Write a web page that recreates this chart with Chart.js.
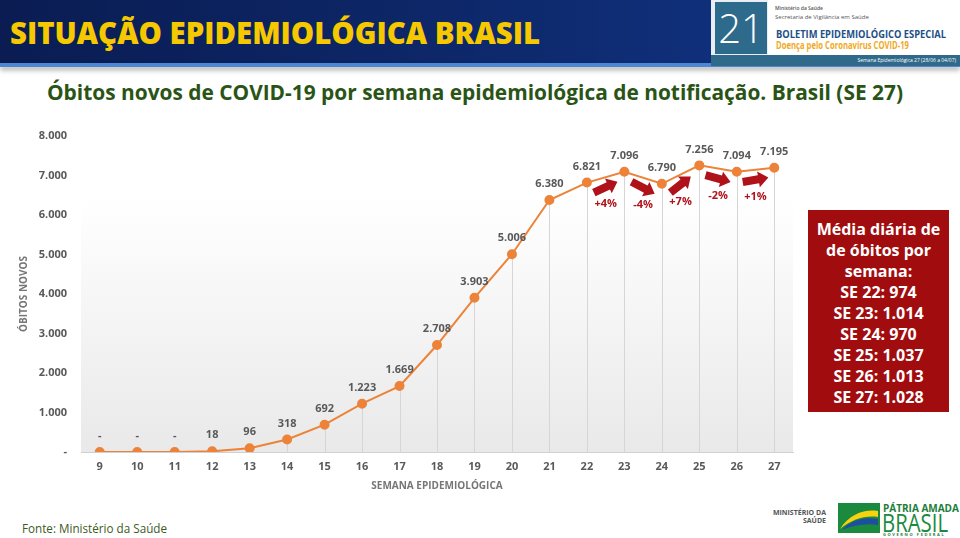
<!DOCTYPE html>
<html lang="pt-BR">
<head>
<meta charset="utf-8">
<script src="https://cdn.jsdelivr.net/npm/chart.js@4"></script>
<style>
  html, body { margin: 0; padding: 0; background: #fff; }
  #page { position: relative; width: 960px; height: 538px; overflow: hidden; font-family: 'Open Sans', sans-serif; }
  #topbar { position: absolute; left: 0; top: 0; width: 960px; height: 63px;
    background: linear-gradient(90deg, #0a1c52 0%, #0d2768 45%, #13378c 100%); }
  #topline { position: absolute; left: 0; top: 63px; width: 960px; height: 4px; background: #4d86d2; box-shadow: 0 3px 5px rgba(0,0,0,0.35); }
  .fit { position: absolute; white-space: nowrap; transform-origin: 0 50%; }
  #title { left: 10px; top: 14px; font-size: 30px; line-height: 38px; font-weight: 800; color: #f6c800; }
  #badge { position: absolute; left: 711px; top: 0; width: 249px; height: 66px; background: #e9eef2; }
  #badge21 { position: absolute; left: 715px; top: 2px; width: 52px; height: 52px; background: #2e6a8c; color: #fff;
    font: 300 40px/52px 'Open Sans', sans-serif; text-align: center; }
  #badgeWhite { position: absolute; left: 768px; top: 0; width: 192px; height: 55px; background: #fff; }
  #badgeStrip { position: absolute; left: 711px; top: 55px; width: 249px; height: 11px; background: #2f6a8a; }
  .tiny { position: absolute; white-space: nowrap; }
  #subtitle { left: 47px; top: 77px; font-size: 22px; line-height: 28px; font-weight: 700; color: #2a5416; }
  #chartBox { position: absolute; left: 0; top: 120px; width: 800px; height: 380px; }
  #redBox { position: absolute; left: 808px; top: 210px; width: 141px; height: 202px; background: #a10d0f;
    color: #fff; font: 700 16px/21px 'Open Sans', sans-serif; text-align: center; padding-top: 9px; box-sizing: border-box; }
  #fonte { left: 22px; top: 519px; font-size: 13px; line-height: 18px; color: #3d5a1e; }
</style>
</head>
<body>
<div id="page">
  <div id="topbar"></div>
  <div id="topline"></div>
  <div id="title" class="fit" data-w="530">SITUAÇÃO EPIDEMIOLÓGICA BRASIL</div>

  <div id="badge"></div>
  <div id="badge21">21</div>
  <div id="badgeWhite"></div>
  <div id="badgeStrip"></div>
  <div class="tiny" style="left:775px;top:5px;font:600 5px/6px 'Open Sans';color:#555">Ministério da Saúde</div>
  <div class="tiny" style="left:775px;top:14px;font:400 6px/7px 'Open Sans';color:#555">Secretaria de Vigilância em Saúde</div>
  <div class="tiny fit" data-w="170" style="left:776px;top:27px;font:700 11px/14px 'Open Sans';color:#1d4f86">BOLETIM EPIDEMIOLÓGICO ESPECIAL</div>
  <div class="tiny fit" data-w="133" style="left:776px;top:39px;font:700 10px/13px 'Open Sans';color:#f0a91e">Doença pelo Coronavírus COVID-19</div>
  <div class="tiny" style="right:4px;top:57px;font:400 5px/7px 'Open Sans';color:#fff">Semana Epidemiológica 27 (28/06 a 04/07)</div>

  <div id="subtitle" class="fit" data-w="856">Óbitos novos de COVID-19 por semana epidemiológica de notificação. Brasil (SE 27)</div>

  <div id="chartBox"><canvas id="chart"></canvas></div>

  <div id="redBox"></div>

  <div id="fonte" class="fit" data-w="145">Fonte: Ministério da Saúde</div>

  <div class="tiny" style="right:134px;top:509px;font:700 7px/8px 'Open Sans';color:#555;text-align:right">MINISTÉRIO DA<br>SAÚDE</div>
  <svg style="position:absolute;left:838px;top:503px" width="42" height="30" viewBox="0 0 42 30">
    <rect x="0" y="0" width="42" height="30" fill="#1b8a3e"/>
    <path d="M2 26 C12 10 28 6 40 8 L40 14 C28 12 14 16 2 26 Z" fill="#f6d20f"/>
    <path d="M4 27 C14 16 28 14 40 16 L40 22 C28 20 16 22 4 27 Z" fill="#1c4fa0"/>
  </svg>
  <div class="tiny" style="left:883px;top:502px;font:700 10px/12px 'Open Sans';color:#1b7e3a">PÁTRIA AMADA</div>
  <div class="tiny fit" data-w="66" style="left:882px;top:510px;font:500 25px/24px 'Open Sans';color:#1b8a3e">BRASIL</div>
  <div class="tiny" style="left:883px;top:532px;font:700 4px/5px 'Open Sans';color:#1b7e3a;letter-spacing:1.6px">GOVERNO FEDERAL</div>
</div>

<script>
// semanas epidemiológicas e óbitos novos
const semanas = ['9', '10', '11', '12', '13', '14', '15', '16', '17', '18', '19', '20', '21', '22', '23', '24', '25', '26', '27'];
const obitos = [0, 0, 0, 18, 96, 318, 692, 1223, 1669, 2708, 3903, 5006, 6380, 6821, 7096, 6790, 7256, 7094, 7195];
const variacao = ['+4%', '-4%', '+7%', '-2%', '+1%'];   // SE 22->23 ... 26->27
const variacaoInicio = 13;                             // index of SE 22
const mediaSemanas = ['SE 22', 'SE 23', 'SE 24', 'SE 25', 'SE 26', 'SE 27'];
const mediaDiaria = [974, 1014, 970, 1037, 1013, 1028];
const yTicks = [0, 1000, 2000, 3000, 4000, 5000, 6000, 7000, 8000];

const fmt = v => v === 0 ? '-' : String(v).replace(/\B(?=(\d{3})+(?!\d))/g, '.');

// red box text
document.getElementById('redBox').innerHTML =
  'Média diária de<br>de óbitos por<br>semana:<br>' +
  mediaSemanas.map((s, i) => s + ': ' + fmt(mediaDiaria[i])).join('<br>');

// squeeze condensed-looking texts to their width in the slide
document.querySelectorAll('.fit').forEach(el => {
  const w = el.getBoundingClientRect().width;
  const target = Number(el.dataset.w);
  el.style.transform = 'scaleX(' + (target / w) + ')';
});

const GRAY = '#595959';
const RED = '#b0121a';

const extras = {
  id: 'extras',
  beforeDraw(chart) {
    const { ctx, chartArea: a } = chart;
    const g = ctx.createLinearGradient(0, a.top, 0, a.bottom);
    g.addColorStop(0, '#ffffff');
    g.addColorStop(0.2, '#ffffff');
    g.addColorStop(1, '#e9e9e9');
    ctx.save();
    ctx.fillStyle = g;
    ctx.fillRect(a.left, a.top, a.right - a.left, a.bottom - a.top);
    ctx.restore();
  },
  beforeDatasetsDraw(chart) {
    const { ctx, chartArea: a } = chart;
    const pts = chart.getDatasetMeta(0).data;
    ctx.save();
    ctx.strokeStyle = '#d6d6d6';
    ctx.lineWidth = 1;
    pts.forEach(p => {
      ctx.beginPath();
      ctx.moveTo(Math.round(p.x) + 0.5, p.y);
      ctx.lineTo(Math.round(p.x) + 0.5, a.bottom);
      ctx.stroke();
    });
    ctx.restore();
  },
  afterDatasetsDraw(chart) {
    const { ctx, chartArea: a } = chart;
    const pts = chart.getDatasetMeta(0).data;
    ctx.save();
    // value labels
    ctx.font = "bold 11px 'Open Sans'";
    ctx.fillStyle = GRAY;
    ctx.textAlign = 'center';
    ctx.textBaseline = 'middle';
    pts.forEach((p, i) => ctx.fillText(fmt(obitos[i]), p.x, p.y - 16));

    // variation arrows
    variacao.forEach((txt, k) => {
      const p0 = pts[variacaoInicio + k], p1 = pts[variacaoInicio + k + 1];
      const mx = (p0.x + p1.x) / 2, my = (p0.y + p1.y) / 2;
      const ang = Math.atan2((p1.y - p0.y) * 1.6, p1.x - p0.x);
      ctx.save();
      ctx.translate(mx, my + 10);
      ctx.rotate(ang);
      ctx.fillStyle = RED;
      ctx.beginPath();
      ctx.moveTo(-13, -4);
      ctx.lineTo(3, -4);
      ctx.lineTo(3, -8);
      ctx.lineTo(13, 0);
      ctx.lineTo(3, 8);
      ctx.lineTo(3, 4);
      ctx.lineTo(-13, 4);
      ctx.closePath();
      ctx.fill();
      ctx.restore();
      ctx.fillStyle = RED;
      ctx.font = "bold 11px 'Open Sans'";
      ctx.fillText(txt, mx, my + 27);
    });

    // axis titles
    ctx.fillStyle = '#767676';
    ctx.font = "bold 10px 'Open Sans'";
    ctx.fillText('SEMANA EPIDEMIOLÓGICA', (a.left + a.right) / 2, a.bottom + 34);
    ctx.translate(24, (a.top + a.bottom) / 2);
    ctx.rotate(-Math.PI / 2);
    ctx.fillText('ÓBITOS NOVOS', 0, 0);
    ctx.restore();
  }
};

new Chart(document.getElementById('chart').getContext('2d'), {
  type: 'line',
  data: {
    labels: semanas,
    datasets: [{
      data: obitos,
      borderColor: '#ec8339',
      backgroundColor: '#ec8339',
      pointBackgroundColor: '#ec8339',
      pointBorderColor: '#ec8339',
      pointRadius: 4,
      borderWidth: 2,
      tension: 0,
    }],
  },
  options: {
    responsive: true,
    maintainAspectRatio: false,
    animation: false,
    layout: { padding: { top: 16, right: 7, left: 0, bottom: 0 } },
    plugins: { legend: { display: false }, tooltip: { enabled: false } },
    scales: {
      x: {
        offset: true,
        grid: { display: false, drawTicks: false },
        border: { display: true, color: '#d0d0d0', width: 1 },
        ticks: { color: GRAY, font: { family: 'Open Sans', size: 11, weight: 'bold' }, padding: 8, maxRotation: 0 },
        afterFit: s => { s.height = 48; },
      },
      y: {
        min: 0,
        max: 8000,
        afterBuildTicks: s => { s.ticks = yTicks.map(v => ({ value: v })); },
        grid: { display: false, drawTicks: false },
        border: { display: false },
        ticks: { color: GRAY, font: { family: 'Open Sans', size: 11, weight: 'bold' }, padding: 14, callback: v => fmt(v) },
        afterFit: s => { s.width = 81; s.paddingTop = 0; s.paddingBottom = 0; },
      },
    },
  },
  plugins: [extras],
});
</script>
</body>
</html>
